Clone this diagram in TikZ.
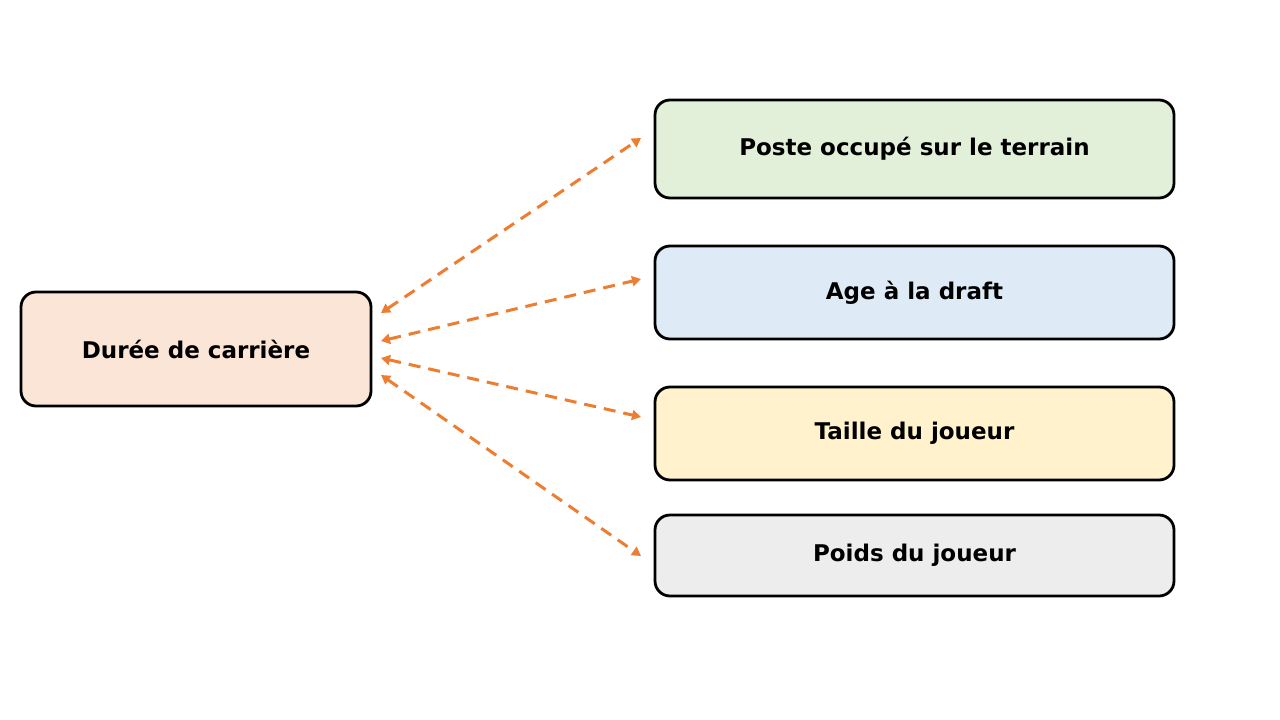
\documentclass[tikz,border=0pt]{standalone}
\usepackage{fontspec}
\setmainfont{DejaVu Sans}
\usetikzlibrary{arrows.meta}

\definecolor{lienorange}{HTML}{ED7D31}
\definecolor{fondduree}{HTML}{FBE5D6}
\definecolor{fondposte}{HTML}{E2F0D9}
\definecolor{fondage}{HTML}{DEEBF7}
\definecolor{fondtaille}{HTML}{FFF2CC}
\definecolor{fondpoids}{HTML}{EDEDED}

\tikzset{
  boite/.style={draw=black, line width=2.8pt, rounded corners=15pt,
    font=\fontsize{23}{26}\selectfont\bfseries, align=center,
    minimum width=519pt, inner sep=0pt},
  lien/.style={lienorange, line width=3pt, dash pattern=on 12pt off 8pt,
    {Triangle[length=9pt,width=10pt]}-{Triangle[length=9pt,width=10pt]}}
}

\begin{document}
\begin{tikzpicture}[x=1pt,y=-1pt]
\useasboundingbox (0,0) rectangle (1280,720);

% left one
\node[boite, fill=fondduree, minimum width=350pt, minimum height=114pt] (duree) at (196,349) {Durée de carrière};

% right ones
\node[boite, fill=fondposte, minimum height=98pt] (poste) at (914.5,149) {Poste occupé sur le terrain};
\node[boite, fill=fondage, minimum height=93pt] (age) at (914.5,292.5) {Age à la draft};
\node[boite, fill=fondtaille, minimum height=93pt] (taille) at (914.5,433.5) {Taille du joueur};
\node[boite, fill=fondpoids, minimum height=81pt] (poids) at (914.5,555.5) {Poids du joueur};

% arrow ends
\coordinate (d1) at (381,313);
\coordinate (d2) at (381,341);
\coordinate (d3) at (381,358);
\coordinate (d4) at (381,375);
\coordinate (p1) at (641,138);
\coordinate (p2) at (641,279);
\coordinate (p3) at (641,417);
\coordinate (p4) at (641,556);

\draw[lien] (d1) -- (p1);
\draw[lien] (d2) -- (p2);
\draw[lien] (d3) -- (p3);
\draw[lien] (d4) -- (p4);
%
\end{tikzpicture}
\end{document}
